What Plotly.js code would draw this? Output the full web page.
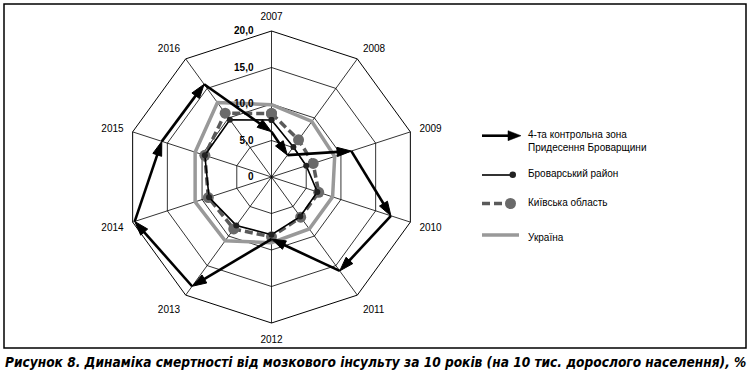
<!DOCTYPE html>
<html>
<head>
<meta charset="utf-8">
<script src="https://cdn.plot.ly/plotly-3.0.1.min.js"></script>
<style>
  html, body { margin: 0; padding: 0; background: #fff; }
  #chart { width: 751px; height: 376px; }
</style>
</head>
<body>
<div id="chart"></div>
<script>
// ---- data ----
const years = ['2007','2008','2009','2010','2011','2012','2013','2014','2015','2016'];
const zoneValues    = [6.2, 3.7, 11.5, 17.2, 15.9, 8.5, 18.5, 19.7, 15.8, 15.7];
const brovaryValues = [7.8, 5.1, 5.0, 6.6, 6.7, 7.9, 8.2, 9.0, 9.6, 9.7];
const kyivValues    = [8.7, 6.3, 6.0, 6.8, 6.8, 8.2, 8.8, 9.1, 9.6, 10.8];
const ukraineValues = [9.9, 9.4, 9.1, 8.8, 8.8, 9.0, 10.8, 11.0, 11.0, 12.6];
const radialTicks = [0, 5, 10, 15, 20];
const radialTickText = ['0', '5,0', '10,0', '15,0', '20,0'];
const seriesNames = ['4-та контрольна зона<br>Придесення Броварщини', 'Броварський район', 'Київська область', 'Україна'];
const caption = 'Рисунок 8. Динаміка смертності від мозкового інсульту за 10 років (на 10 тис. дорослого населення), %';

// close the loops
const close = a => a.concat([a[0]]);
const theta = close(years);

const W = 751, H = 376;
const px = x => x / W;
const py = y => 1 - y / H;

const traces = [
  {
    type: 'scatterpolar', r: close(ukraineValues), theta: theta, mode: 'lines',
    line: {color: '#999999', width: 3.5}, showlegend: false, hoverinfo: 'skip'
  },
  {
    type: 'scatterpolar', r: close(kyivValues), theta: theta, mode: 'lines+markers',
    line: {color: '#5a5a5a', width: 3.5, dash: '8px,4px'},
    marker: {color: '#6a6a6a', size: 11, opacity: 1}, showlegend: false, hoverinfo: 'skip'
  },
  {
    type: 'scatterpolar', r: close(brovaryValues), theta: theta, mode: 'lines+markers',
    line: {color: '#000000', width: 1.6},
    marker: {color: '#222222', size: 6, opacity: 1}, showlegend: false, hoverinfo: 'skip'
  },
  {
    type: 'scatterpolar', r: close(zoneValues), theta: theta, mode: 'lines+markers',
    line: {color: '#000000', width: 2.6},
    marker: {
      color: '#000000', symbol: 'arrow', angleref: 'previous', opacity: 1,
      line: {color: '#000000', width: 1},
      size: close(zoneValues).map((v, i) => i === 0 ? 0 : 15)
    },
    showlegend: false, hoverinfo: 'skip'
  }
];

// polar geometry: centre (271.5,177), radius 146
const cx = 271.5, cy = 177, R = 146;

const shapes = [
  {type: 'rect', xref: 'paper', yref: 'paper', x0: px(4), x1: px(746), y0: py(4), y1: py(348),
   line: {color: '#000', width: 1.5}},
  // legend 1: arrow
  {type: 'line', xref: 'paper', yref: 'paper', x0: px(482), x1: px(510), y0: py(135.7), y1: py(135.7),
   line: {color: '#000', width: 2.6}},
  {type: 'path', xref: 'paper', yref: 'paper',
   path: `M${px(521)},${py(135.7)} L${px(508)},${py(130.7)} L${px(508)},${py(140.7)} Z`,
   fillcolor: '#000', line: {color: '#000', width: 0.5}},
  // legend 2
  {type: 'line', xref: 'paper', yref: 'paper', x0: px(482), x1: px(512), y0: py(175), y1: py(175),
   line: {color: '#000', width: 1.6}},
  {type: 'circle', xref: 'paper', yref: 'paper', x0: px(509.5), x1: px(516), y0: py(171.5), y1: py(178),
   fillcolor: '#222', line: {color: '#222', width: 0}},
  // legend 3
  {type: 'line', xref: 'paper', yref: 'paper', x0: px(482), x1: px(506), y0: py(203.5), y1: py(203.5),
   line: {color: '#5a5a5a', width: 3.5, dash: '8px,4px'}},
  {type: 'circle', xref: 'paper', yref: 'paper', x0: px(505), x1: px(516), y0: py(198), y1: py(209),
   fillcolor: '#6a6a6a', line: {color: '#6a6a6a', width: 0}},
  // legend 4
  {type: 'line', xref: 'paper', yref: 'paper', x0: px(482), x1: px(519), y0: py(235), y1: py(235),
   line: {color: '#999999', width: 3.5}}
];

const legFont = {family: 'Arial, "Liberation Sans", sans-serif', size: 10, color: '#000'};
const annotations = [
  {xref: 'paper', yref: 'paper', x: px(526), y: py(141), xanchor: 'left', yanchor: 'middle',
   text: seriesNames[0], showarrow: false, font: legFont, align: 'left'},
  {xref: 'paper', yref: 'paper', x: px(526), y: py(173), xanchor: 'left', yanchor: 'middle',
   text: seriesNames[1], showarrow: false, font: legFont, align: 'left'},
  {xref: 'paper', yref: 'paper', x: px(526), y: py(202), xanchor: 'left', yanchor: 'middle',
   text: seriesNames[2], showarrow: false, font: legFont, align: 'left'},
  {xref: 'paper', yref: 'paper', x: px(526), y: py(237), xanchor: 'left', yanchor: 'middle',
   text: seriesNames[3], showarrow: false, font: legFont, align: 'left'},
  {xref: 'paper', yref: 'paper', x: px(375), y: py(362), xanchor: 'center', yanchor: 'middle',
   text: caption, showarrow: false,
   font: {family: '"DejaVu Sans Condensed", "Liberation Sans Narrow", sans-serif',
          size: 13.6, color: '#000', weight: 700, style: 'italic'}}
];

const layout = {
  width: W, height: H,
  margin: {l: 0, r: 0, t: 0, b: 0},
  paper_bgcolor: '#fff',
  showlegend: false,
  polar: {
    domain: {x: [px(cx - R), px(cx + R)], y: [py(cy + R), py(cy - R)]},
    bgcolor: 'rgba(0,0,0,0)',
    gridshape: 'linear',
    angularaxis: {
      type: 'category', categoryarray: years, direction: 'clockwise', rotation: 90,
      showline: true, linecolor: '#000', linewidth: 1,
      showgrid: true, gridcolor: '#000', gridwidth: 0.8,
      ticks: 'outside', ticklen: 7, tickcolor: 'rgba(0,0,0,0)',
      tickfont: {family: 'Arial, "Liberation Sans", sans-serif', size: 10, color: '#000'}
    },
    radialaxis: {
      range: [0, 20], angle: 90, side: 'counterclockwise', tickangle: 90,
      tickvals: radialTicks, ticktext: radialTickText,
      showline: false, ticks: 'outside', ticklen: 14, tickcolor: 'rgba(0,0,0,0)',
      showgrid: true, gridcolor: '#000', gridwidth: 0.8,
      tickfont: {family: 'Arial, "Liberation Sans", sans-serif', size: 10, color: '#000', weight: 700}
    }
  },
  shapes: shapes,
  annotations: annotations
};

Plotly.newPlot('chart', traces, layout, {staticPlot: true, displayModeBar: false});
</script>
</body>
</html>
